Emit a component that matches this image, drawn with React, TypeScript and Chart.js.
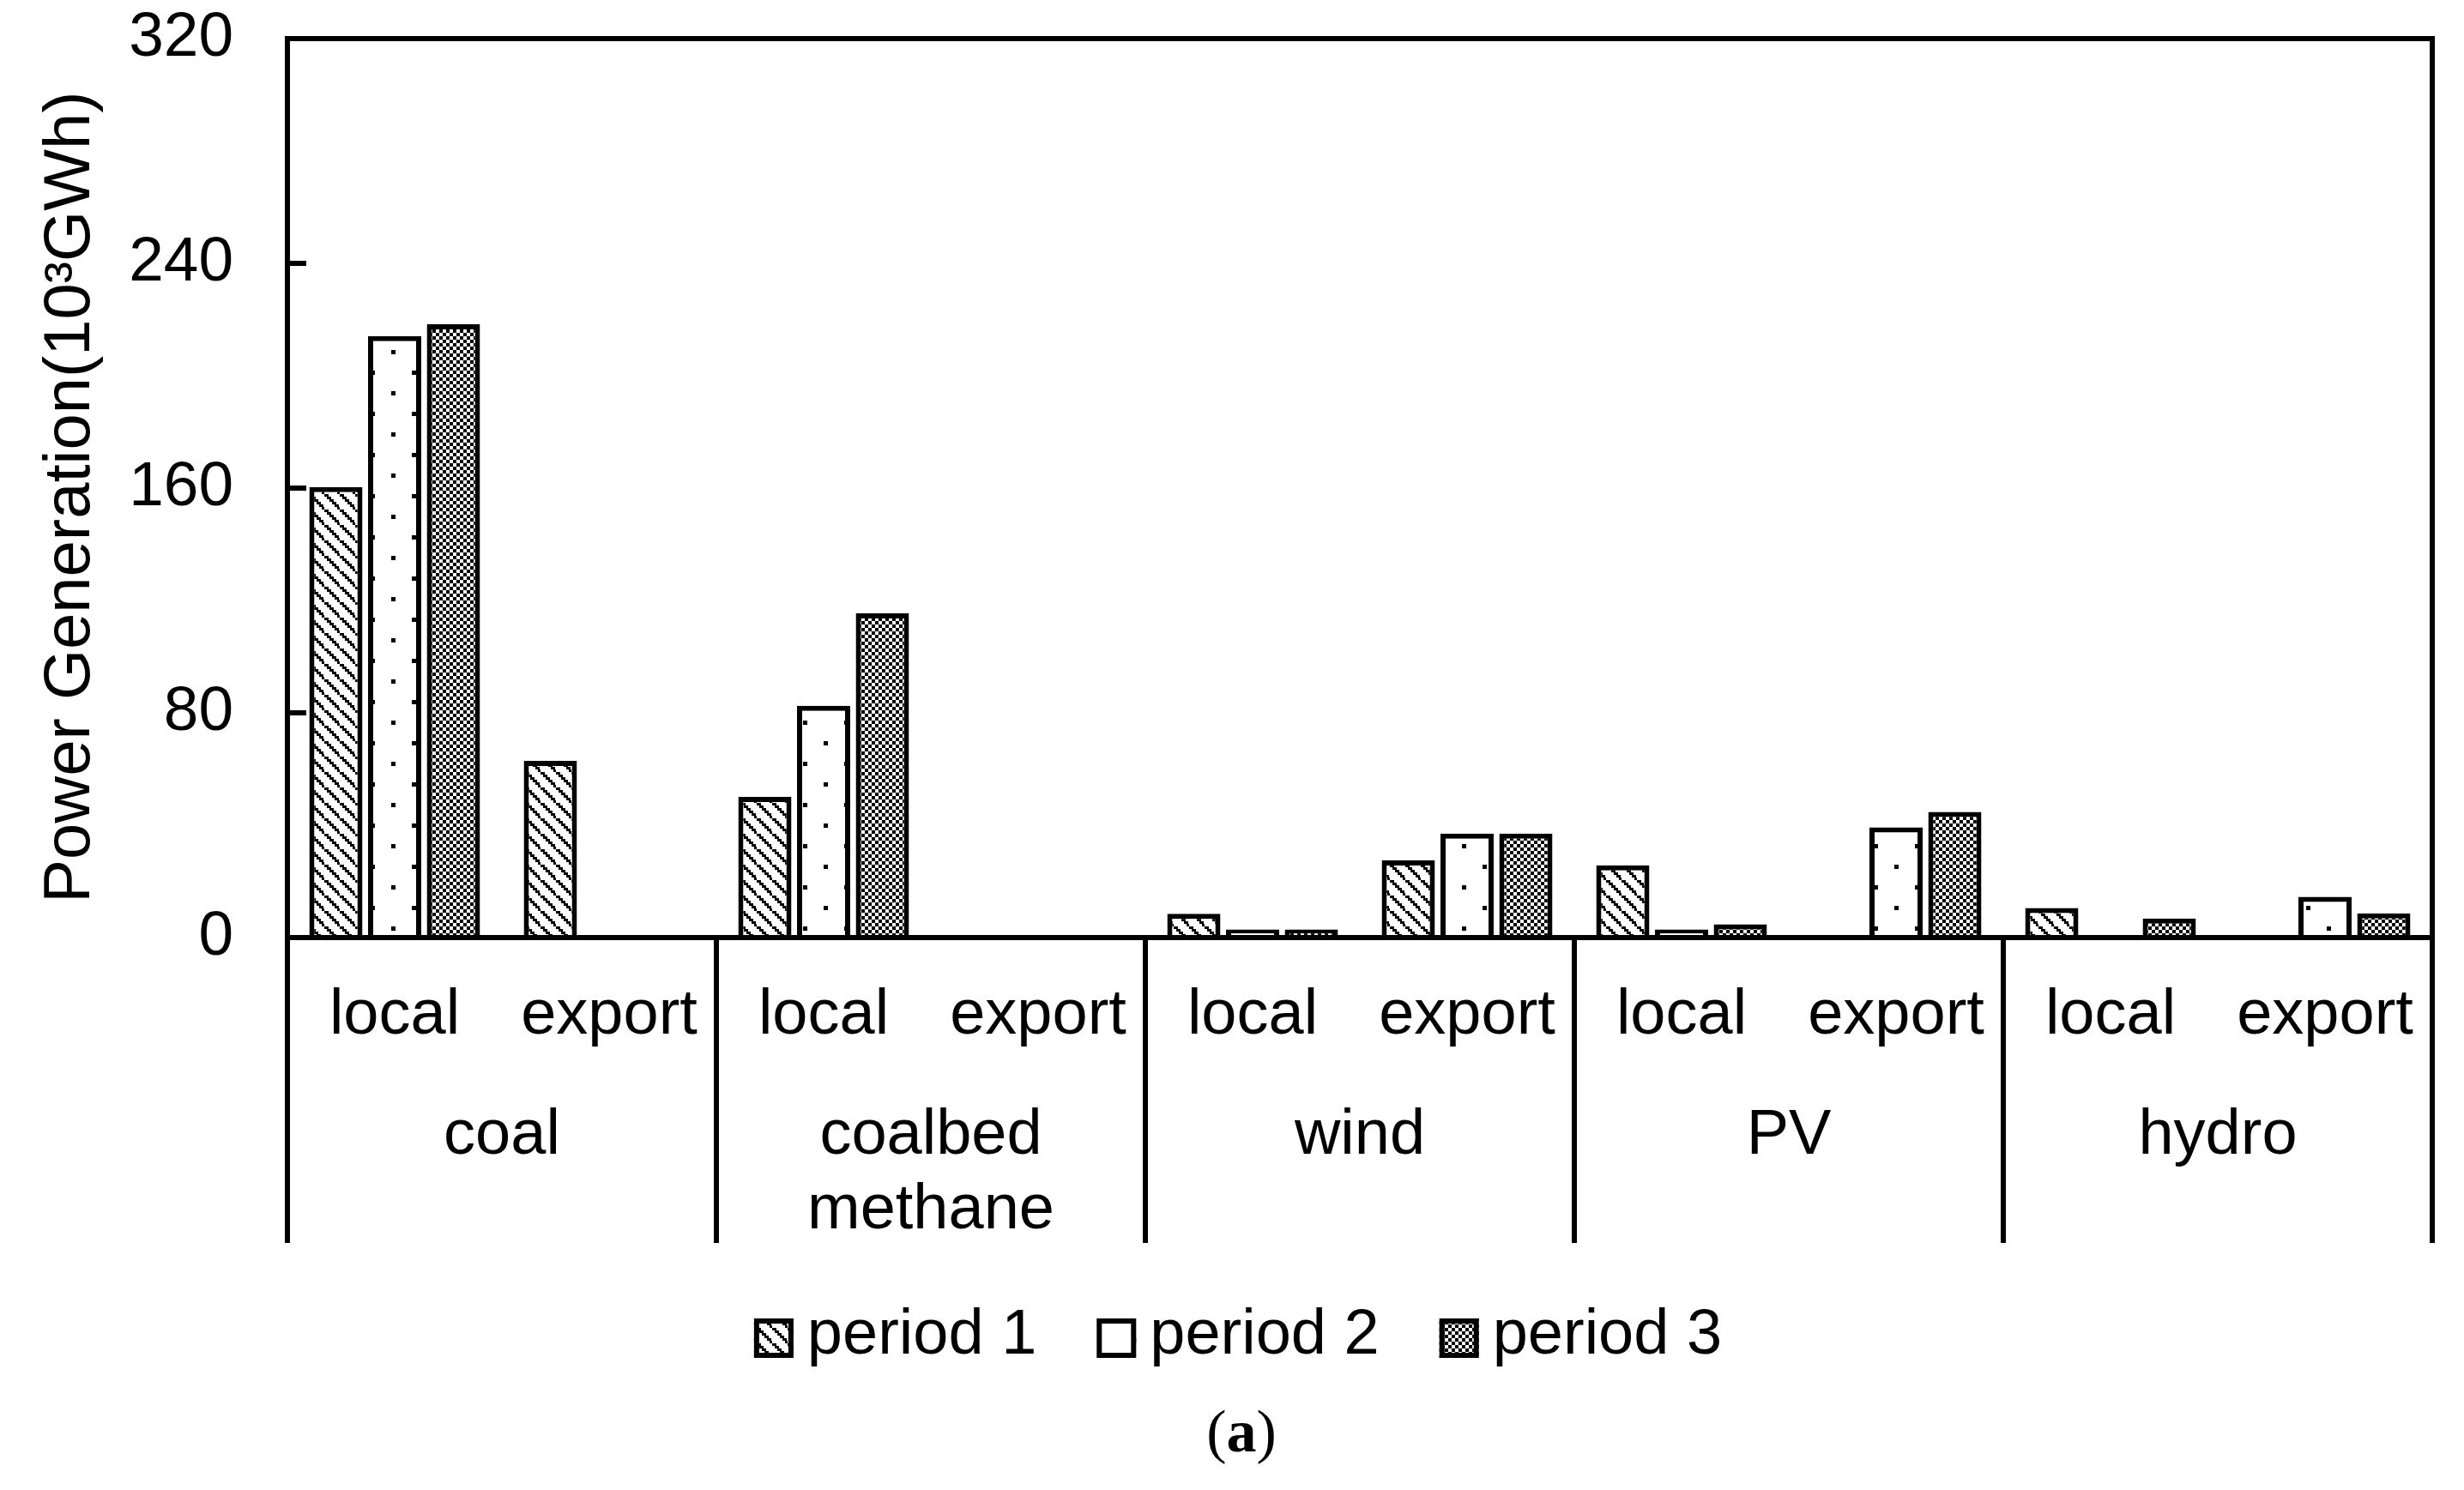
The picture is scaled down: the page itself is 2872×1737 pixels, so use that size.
import React, { useEffect, useRef } from "react";
import { Chart, registerables } from "chart.js";

Chart.register(...registerables);

// ---- data ----
const subCategories = ["local", "export", "local", "export", "local", "export", "local", "export", "local", "export"];
const groupLabels = [["coal"], ["coalbed", "methane"], ["wind"], ["PV"], ["hydro"]];
const seriesNames = ["period 1", "period 2", "period 3"];
const period1 = [160.4, 62.9, 50.1, 0, 8.5, 27.5, 25.7, 0, 10.5, 0];
const period2 = [214.1, 0, 82.5, 0, 2.9, 37.0, 2.9, 39.2, 0, 14.5];
const period3 = [218.3, 0, 115.4, 0, 2.9, 37.0, 4.7, 44.7, 6.8, 8.6];
const yTicks = [0, 80, 160, 240, 320];
const yTitle = "Power Generation(10³GWh)";
const figureLetter = "a";

const SANS = '"Liberation Sans", Arial, sans-serif';
const SERIF = '"Liberation Serif", "Times New Roman", serif';

function makePattern(kind: number): CanvasPattern {
  const c = document.createElement("canvas");
  const g = c.getContext("2d")!;
  if (kind === 0) {
    const s = 18;
    c.width = s;
    c.height = s;
    g.fillStyle = "#fff";
    g.fillRect(0, 0, s, s);
    g.fillStyle = "#000";
    for (let i = 0; i < 6; i++) g.fillRect(i * 3, i * 3, 5, 3);
  } else if (kind === 1) {
    const s = 48;
    c.width = s;
    c.height = s;
    g.fillStyle = "#fff";
    g.fillRect(0, 0, s, s);
    g.fillStyle = "#000";
    g.fillRect(0, 0, 5, 5);
    g.fillRect(24, 24, 5, 5);
  } else {
    const s = 8;
    c.width = s;
    c.height = s;
    g.fillStyle = "#fff";
    g.fillRect(0, 0, s, s);
    g.fillStyle = "#000";
    g.fillRect(0, 0, 4, 4);
    g.fillRect(4, 4, 4, 4);
  }
  return g.createPattern(c, "repeat")!;
}

export default function App() {
  const ref = useRef<HTMLCanvasElement | null>(null);

  useEffect(() => {
    const canvas = ref.current!;
    const patterns = [makePattern(0), makePattern(1), makePattern(2)];
    const values = [period1, period2, period3];

    const framePlugin = {
      id: "frame",
      afterDatasetsDraw(chart: any) {
        const ctx = chart.ctx as CanvasRenderingContext2D;
        const { left, right, top, bottom } = chart.chartArea;
        const xs = chart.scales.x;
        const ys = chart.scales.y;
        const lowEnd = 1449;
        ctx.save();
        ctx.strokeStyle = "#000";
        ctx.lineWidth = 6;
        ctx.lineCap = "butt";
        ctx.beginPath();
        ctx.moveTo(left - 3, top);
        ctx.lineTo(right + 3, top);
        ctx.moveTo(left, top);
        ctx.lineTo(left, lowEnd);
        ctx.moveTo(right, top);
        ctx.lineTo(right, lowEnd);
        ctx.moveTo(left, bottom);
        ctx.lineTo(right, bottom);
        for (let k = 1; k < groupLabels.length; k++) {
          const xp = (xs.getPixelForValue(2 * k - 1) + xs.getPixelForValue(2 * k)) / 2;
          ctx.moveTo(xp, bottom);
          ctx.lineTo(xp, lowEnd);
        }
        for (const v of yTicks) {
          const yp = ys.getPixelForValue(v);
          ctx.moveTo(left, yp);
          ctx.lineTo(left + 22, yp);
        }
        ctx.stroke();
        ctx.restore();
      },
      afterDraw(chart: any) {
        const ctx = chart.ctx as CanvasRenderingContext2D;
        const xs = chart.scales.x;
        ctx.save();
        ctx.fillStyle = "#000";
        ctx.textAlign = "center";
        ctx.textBaseline = "alphabetic";
        ctx.font = `74px ${SANS}`;
        groupLabels.forEach((lines, k) => {
          const cx = (xs.getPixelForValue(2 * k) + xs.getPixelForValue(2 * k + 1)) / 2;
          lines.forEach((t, i) => ctx.fillText(t, cx, 1345 + i * 87));
        });

        // legend
        const boxW = 46;
        const boxH = 46;
        const gapBT = 16;
        const gapItems = 70;
        const widths = seriesNames.map((n) => ctx.measureText(n).width);
        const total = widths.reduce((a, w) => a + boxW + gapBT + w, 0) + gapItems * (seriesNames.length - 1);
        let x = 1443 - total / 2;
        const baseY = 1578;
        ctx.textAlign = "left";
        seriesNames.forEach((n, i) => {
          const by = 1537;
          ctx.fillStyle = patterns[i];
          ctx.fillRect(x, by, boxW, boxH);
          ctx.strokeStyle = "#000";
          ctx.lineWidth = 6;
          ctx.strokeRect(x + 3, by + 3, boxW - 6, boxH - 6);
          ctx.fillStyle = "#000";
          ctx.fillText(n, x + boxW + gapBT, baseY);
          x += boxW + gapBT + widths[i] + gapItems;
        });

        // figure label "(a)"
        ctx.font = `70px ${SERIF}`;
        const wOpen = ctx.measureText("(").width;
        const wClose = ctx.measureText(")").width;
        ctx.font = `bold 70px ${SERIF}`;
        const wA = ctx.measureText(figureLetter).width;
        const tw = wOpen + wA + wClose;
        let fx = 1447 - tw / 2;
        const fy = 1692;
        ctx.font = `70px ${SERIF}`;
        ctx.fillText("(", fx, fy);
        fx += wOpen;
        ctx.font = `bold 70px ${SERIF}`;
        ctx.fillText(figureLetter, fx, fy);
        fx += wA;
        ctx.font = `70px ${SERIF}`;
        ctx.fillText(")", fx, fy);
        ctx.restore();
      },
    };

    const chart = new Chart(canvas, {
      type: "bar",
      data: {
        labels: subCategories,
        datasets: seriesNames.map((name, i) => ({
          label: name,
          data: values[i],
          backgroundColor: patterns[i] as any,
          borderColor: "#000",
          borderWidth: 6,
          borderSkipped: "start" as any,
          categoryPercentage: 0.822,
          barPercentage: 0.905,
        })),
      },
      options: {
        animation: false,
        responsive: false,
        devicePixelRatio: 1,
        layout: { padding: { left: 0, right: 37, top: 45, bottom: 0 } },
        plugins: {
          legend: { display: false },
          tooltip: { enabled: false },
        },
        scales: {
          x: {
            grid: { display: false, drawTicks: false },
            border: { display: false },
            ticks: {
              color: "#000",
              font: { family: SANS, size: 74 },
              padding: 47,
              maxRotation: 0,
              autoSkip: false,
            },
            afterFit: (s: any) => {
              s.height = 644;
              s.paddingLeft = 0;
              s.paddingRight = 0;
            },
          },
          y: {
            min: 0,
            max: 320,
            afterBuildTicks: (s: any) => {
              s.ticks = yTicks.map((v) => ({ value: v }));
            },
            grid: { display: false, drawTicks: false },
            border: { display: false },
            ticks: {
              color: "#000",
              font: { family: SANS, size: 73 },
              padding: 63,
            },
            title: {
              display: true,
              text: yTitle + " ",
              color: "#000",
              font: { family: SANS, size: 76 },
              padding: { top: 37, bottom: 0 },
            },
            afterFit: (s: any) => {
              s.width = 335;
              s.paddingTop = 0;
              s.paddingBottom = 0;
            },
          },
        },
      },
      plugins: [framePlugin],
    });

    return () => chart.destroy();
  }, []);

  return (
    <div style={{ position: "fixed", left: 0, top: 0, width: 2872, height: 1737, background: "#fff" }}>
      <canvas ref={ref} width={2872} height={1737} style={{ display: "block", width: 2872, height: 1737 }} />
    </div>
  );
}
